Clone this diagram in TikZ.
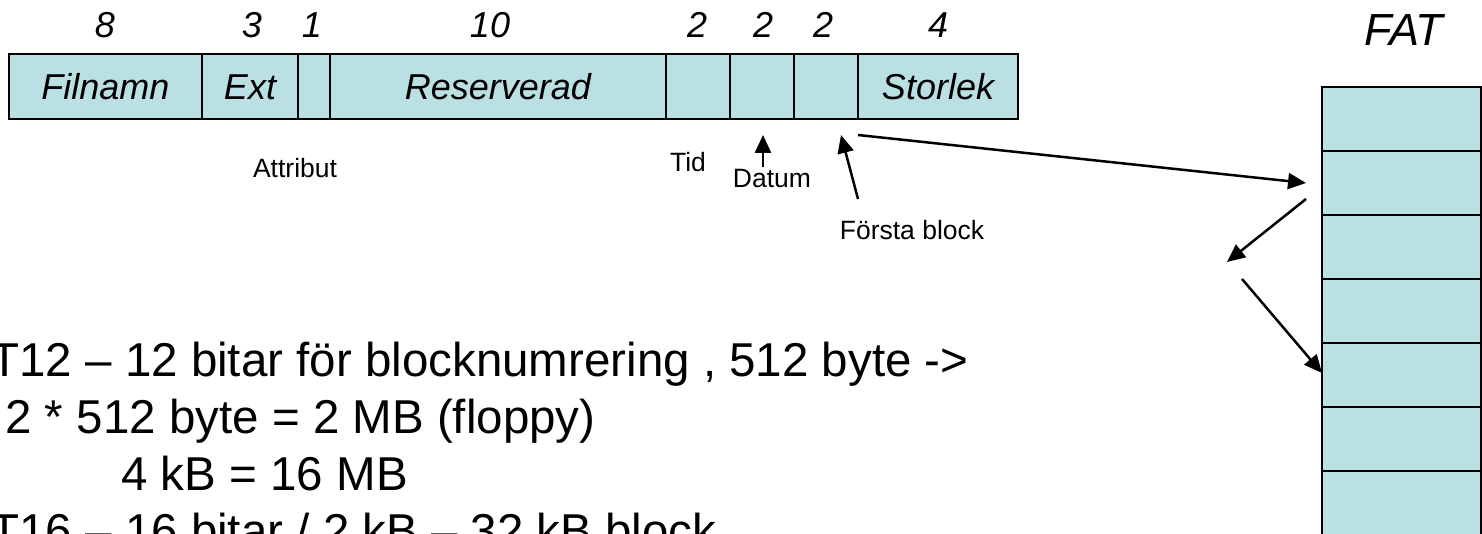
\documentclass[tikz,border=0pt]{standalone}
\usepackage{fontspec}
\setmainfont{Liberation Sans}
\usetikzlibrary{arrows.meta}
\definecolor{cellfill}{HTML}{BBE0E3}
\tikzset{
  field/.style={draw=black, line width=1.35pt, fill=cellfill, minimum height=32.5pt, inner sep=0pt, outer sep=0pt,
     text height=12.9pt, text depth=0pt, font=\fontsize{18pt}{21pt}\selectfont\itshape},
  fatrow/.style={draw=black, line width=1.35pt, fill=cellfill, minimum width=79.5pt, minimum height=32pt, inner sep=0pt, outer sep=0pt},
  bytes/.style={font=\fontsize{18pt}{21pt}\selectfont\itshape, inner sep=0pt},
  small/.style={font=\fontsize{13.25pt}{15pt}\selectfont, inner sep=0pt},
  big/.style={font=\fontsize{23.75pt}{28pt}\selectfont, inner sep=0pt, anchor=base west},
  arr/.style={line width=1.25pt, -{Triangle[length=9pt,width=8pt]}}
}
\begin{document}
\begin{tikzpicture}[x=0.5pt,y=-0.5pt]
\useasboundingbox (0,0) rectangle (1482,534);
\clip (0,0) rectangle (1482,534);
% directory entry fields
\node[field, minimum width=96.5pt] (filnamn) at (105.5,86.5) {Filnamn};
\node[field, minimum width=48pt] (ext) at (250,86.5) {Ext};
\node[field, minimum width=16pt] (attr) at (314,86.5) {};
\node[field, minimum width=168pt] (res) at (498,86.5) {Reserverad};
\node[field, minimum width=32pt] (tid) at (698,86.5) {};
\node[field, minimum width=32pt] (datum) at (762,86.5) {};
\node[field, minimum width=32pt] (forsta) at (826,86.5) {};
\node[field, minimum width=80pt] (storlek) at (938,86.5) {Storlek};
% byte counts
\node[bytes] (n8) at (105,25) {8};
\node[bytes] (n3) at (252,25) {3};
\node[bytes] (n1) at (312,25) {1};
\node[bytes] (n10) at (490,25) {10};
\node[bytes] (n2a) at (697,25) {2};
\node[bytes] (n2b) at (763,25) {2};
\node[bytes] (n2c) at (823,25) {2};
\node[bytes] (n4) at (938,25) {4};
% small labels
\node[small] (lattr) at (295,168) {Attribut};
\node[small] (ltid) at (688,162) {Tid};
\node[small] (ldatum) at (772,179) {Datum};
\node[small] (lforsta) at (912,230) {Första block};
% FAT
\node[font=\fontsize{22.5pt}{26pt}\selectfont\itshape, inner sep=0pt] (fatlabel) at (1404,30) {FAT};
\node[fatrow] (r1) at (1401.5,119) {};
\node[fatrow] (r2) at (1401.5,183) {};
\node[fatrow] (r3) at (1401.5,247) {};
\node[fatrow] (r4) at (1401.5,311) {};
\node[fatrow] (r5) at (1401.5,375) {};
\node[fatrow] (r6) at (1401.5,439) {};
\node[fatrow, minimum height=70pt, anchor=north] (r7) at (1401.5,471) {};
% arrow coordinates
\coordinate (datumtail) at (763,167);
\coordinate (datumtip) at (763,135);
\coordinate (forstatail) at (858,199);
\coordinate (forstatip) at (841,135);
\coordinate (linkA0) at (858,135);
\coordinate (linkA1) at (1306,183);
\coordinate (linkB0) at (1306,199);
\coordinate (linkB1) at (1227,262);
\coordinate (linkC0) at (1242,279);
\coordinate (linkC1) at (1322,373);
\draw[arr] (datumtail) -- (datumtip);
\draw[arr] (forstatail) -- (forstatip);
\draw[arr] (linkA0) -- (linkA1);
\draw[arr] (linkB0) -- (linkB1);
\draw[arr] (linkC0) -- (linkC1);
% text
\node[big] (t1) at (-10,376) {T12 – 12 bitar för blocknumrering , 512 byte ->};
\node[big] (t2) at (5,433) {2 * 512 byte = 2 MB (floppy)};
\node[big] (t3) at (121,490) {4 kB = 16 MB};
\node[big] (t4) at (-10,547) {T16 – 16 bitar / 2 kB – 32 kB block};
\end{tikzpicture}
\end{document}
